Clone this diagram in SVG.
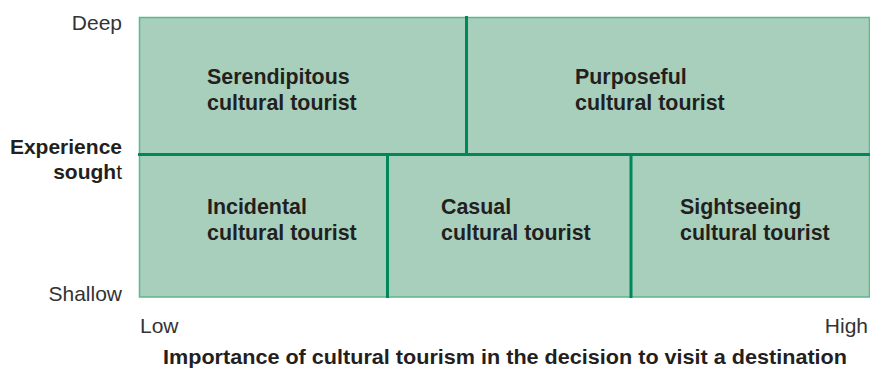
<svg xmlns="http://www.w3.org/2000/svg" width="870" height="368" viewBox="0 0 870 368">
<style>
.cell{fill:#a7cfbb;stroke:none}
.border{fill:none;stroke:#5ab88c;stroke-width:1.5}
.div{stroke:#00875a;stroke-width:3;fill:none}
.lbl{font-family:"Liberation Sans",Arial,sans-serif;font-size:21.4px;font-weight:bold;fill:#231f20}
.ax{font-family:"Liberation Sans",Arial,sans-serif;font-size:21px;fill:#333}
.axb{font-family:"Liberation Sans",Arial,sans-serif;font-size:21px;font-weight:bold;fill:#231f20}
</style>
<rect class="cell" x="139.5" y="17.5" width="730" height="279.5"/>
<rect class="border" x="139.5" y="17.5" width="730" height="279.5"/>
<g id="serendipitous"><text class="lbl" x="207" y="84">Serendipitous</text><text class="lbl" x="207" y="110">cultural tourist</text></g>
<g id="purposeful"><text class="lbl" x="575" y="84">Purposeful</text><text class="lbl" x="575" y="110">cultural tourist</text></g>
<g id="incidental"><text class="lbl" x="207" y="213.5">Incidental</text><text class="lbl" x="207" y="239.5">cultural tourist</text></g>
<g id="casual"><text class="lbl" x="441" y="213.5">Casual</text><text class="lbl" x="441" y="239.5">cultural tourist</text></g>
<g id="sightseeing"><text class="lbl" x="680" y="213.5">Sightseeing</text><text class="lbl" x="680" y="239.5">cultural tourist</text></g>
<g id="connectors">
<line class="div" x1="138" y1="154.5" x2="870" y2="154.5"/>
<line class="div" x1="466.5" y1="16" x2="466.5" y2="154.5"/>
<line class="div" x1="387.5" y1="154.5" x2="387.5" y2="298"/>
<line class="div" x1="631" y1="154.5" x2="631" y2="298"/>
</g>
<g id="axes">
<text class="ax" x="122" y="30" text-anchor="end">Deep</text>
<text class="axb" x="122" y="153.5" text-anchor="end">Experience</text>
<text class="axb" x="122" y="178.5" text-anchor="end">sough<tspan font-weight="normal">t</tspan></text>
<text class="ax" x="122" y="300.5" text-anchor="end">Shallow</text>
<text class="ax" x="140" y="332.5">Low</text>
<text class="ax" x="868" y="332.5" text-anchor="end">High</text>
<text class="axb" x="505" y="364" text-anchor="middle" textLength="684" lengthAdjust="spacingAndGlyphs">Importance of cultural tourism in the decision to visit a destination</text>
</g>
</svg>
